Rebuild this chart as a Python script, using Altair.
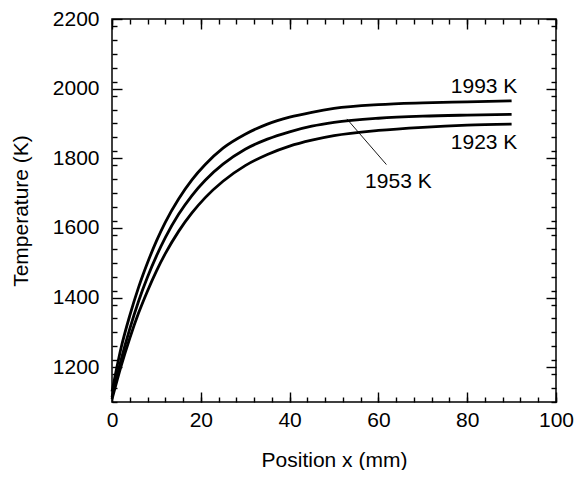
import altair as alt
import pandas as pd

# ---- data ----
series_names = ["1993 K", "1953 K", "1923 K"]

x_pos = [0, 2, 4, 6, 8, 10, 12, 15, 18, 21, 25, 30, 35, 40, 45, 50, 60, 70, 80, 90]
T_1993 = [1130, 1253, 1348, 1430, 1500, 1562, 1616, 1683, 1738, 1782, 1829, 1869, 1898, 1918, 1932, 1943, 1954, 1959, 1962, 1965]
T_1953 = [1114, 1219, 1310, 1390, 1459, 1519, 1572, 1639, 1693, 1737, 1783, 1826, 1855, 1876, 1892, 1903, 1915, 1921, 1924, 1926]
T_1923 = [1108, 1201, 1283, 1356, 1419, 1476, 1526, 1590, 1643, 1687, 1734, 1779, 1811, 1835, 1852, 1865, 1880, 1889, 1895, 1898]

label_text = ["1993 K", "1923 K", "1953 K"]
label_x = [91.3, 91.3, 72.0]
label_T = [2004, 1844, 1731]

leader_x = [61.8]
leader_T = [1782]
leader_x2 = [52.9]
leader_T2 = [1913]

x_major = [0, 20, 40, 60, 80, 100]
x_minor = list(range(0, 101, 4))
y_major = [1200, 1400, 1600, 1800, 2000, 2200]
y_minor = list(range(1100, 2201, 40))

rows = []
for name, ts in zip(series_names, [T_1993, T_1953, T_1923]):
    for xv, tv in zip(x_pos, ts):
        rows.append({"series": name, "x": xv, "T": tv})
df = pd.DataFrame(rows)
labels_df = pd.DataFrame({"label": label_text, "x": label_x, "T": label_T})
leader_df = pd.DataFrame({"x": leader_x, "T": leader_T, "x2": leader_x2, "T2": leader_T2})

FONT = "Liberation Sans"
FS = 21

xscale = alt.Scale(domain=[0, 100], nice=False, zero=False)
yscale = alt.Scale(domain=[1100, 2200], nice=False, zero=False)


def in_axis(orient, values, size, **kw):
    # inward ticks: negative tick size given through an expression
    return alt.Axis(orient=orient, values=values, tickSize=alt.ExprRef(expr=str(-size)),
                    domain=False, grid=False, ticks=True, tickColor="black",
                    tickWidth=1.4, **kw)


ax_bottom = in_axis("bottom", x_major, 10, labels=True, title="Position x (mm)",
                    labelPadding=17, titlePadding=19, labelFlush=False, format="d")
ax_left = in_axis("left", y_major, 10, labels=True, title="Temperature (K)",
                  labelPadding=23, titlePadding=21, format="d")

lines = alt.Chart(df).mark_line(color="black", strokeWidth=2.8, interpolate="monotone").encode(
    x=alt.X("x:Q", scale=xscale, axis=ax_bottom),
    y=alt.Y("T:Q", scale=yscale, axis=ax_left),
    detail="series:N",
)


def ghost(xaxis, yaxis):
    return alt.Chart(df).mark_point(opacity=0).encode(
        x=alt.X("x:Q", scale=xscale, axis=xaxis),
        y=alt.Y("T:Q", scale=yscale, axis=yaxis),
    )


minor_bl = ghost(in_axis("bottom", x_minor, 5, labels=False, title=None),
                 in_axis("left", y_minor, 5, labels=False, title=None))
major_tr = ghost(in_axis("top", x_major, 10, labels=False, title=None),
                 in_axis("right", y_major, 10, labels=False, title=None))
minor_tr = ghost(in_axis("top", x_minor, 5, labels=False, title=None),
                 in_axis("right", y_minor, 5, labels=False, title=None))

texts = alt.Chart(labels_df).mark_text(font=FONT, fontSize=FS, align="right",
                                       baseline="middle", color="black").encode(
    x=alt.X("x:Q", scale=xscale, axis=None),
    y=alt.Y("T:Q", scale=yscale, axis=None),
    text="label:N",
)

leader = alt.Chart(leader_df).mark_rule(color="black", strokeWidth=0.9).encode(
    x=alt.X("x:Q", scale=xscale, axis=None),
    y=alt.Y("T:Q", scale=yscale, axis=None),
    x2="x2:Q",
    y2="T2:Q",
)

chart = alt.layer(lines, minor_bl, major_tr, minor_tr, texts, leader).resolve_axis(
    x="independent", y="independent"
).properties(
    width=566, height=462,
    autosize=alt.AutoSizeParams(type="fit", contains="padding"),
    padding={"left": 2, "top": 0, "right": 0, "bottom": 0},
).configure_view(
    stroke="black", strokeWidth=1.5
).configure_axis(
    labelFont=FONT, labelFontSize=FS, labelColor="black",
    titleFont=FONT, titleFontSize=FS, titleColor="black", titleFontWeight="normal",
)

chart.save("out.html", embed_options={"renderer": "svg", "actions": False})
